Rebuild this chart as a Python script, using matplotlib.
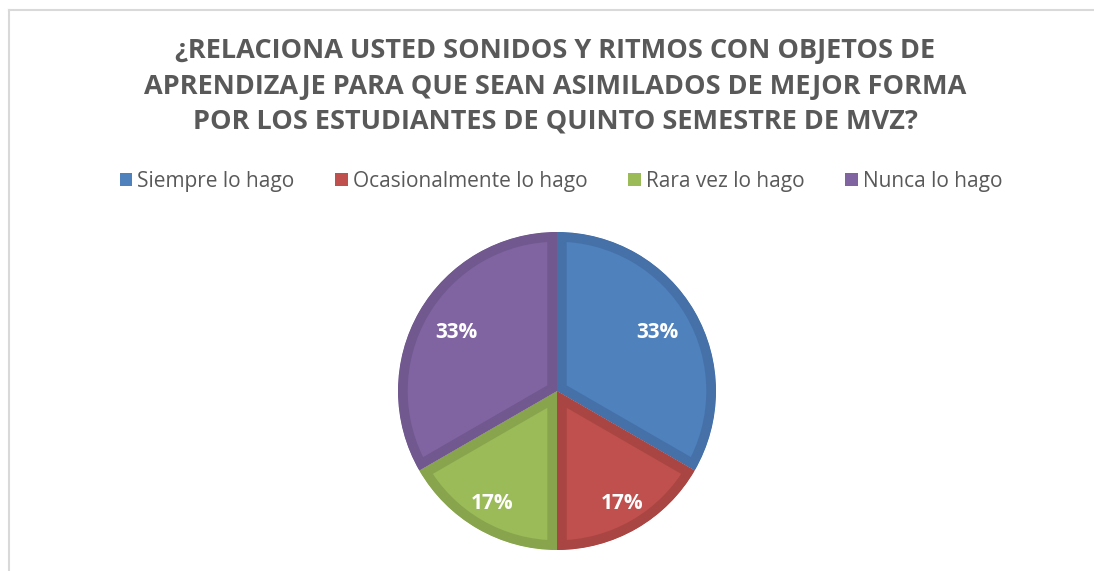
import matplotlib
matplotlib.use('Agg')
import matplotlib.pyplot as plt
import numpy as np
from matplotlib.patches import Patch
from matplotlib.lines import Line2D

plt.rcParams['font.family'] = ['Open Sans', 'DejaVu Sans']

titulo = ("¿RELACIONA USTED SONIDOS Y RITMOS CON OBJETOS DE\n"
          "APRENDIZAJE PARA QUE SEAN ASIMILADOS DE MEJOR FORMA\n"
          "POR LOS ESTUDIANTES DE QUINTO SEMESTRE DE MVZ?")
categorias = ["Siempre lo hago", "Ocasionalmente lo hago", "Rara vez lo hago", "Nunca lo hago"]
valores = [2, 1, 1, 2]
colores = ['#4F81BD', '#C0504D', '#9BBB59', '#8064A2']
bordes = ['#4571A8', '#A94643', '#88A54E', '#71588F']
dist_etiqueta = [0.73, 0.82, 0.82, 0.73]

W, H = 1094, 571
fig = plt.figure(figsize=(W / 100, H / 100), dpi=100)
fig.patch.set_facecolor('white')

# marco gris (solo arriba e izquierda visibles)
fig.add_artist(Line2D([9 / W, 9 / W], [0, 1 - 10 / H], transform=fig.transFigure, color='#D9D9D9', lw=1.5))
fig.add_artist(Line2D([9 / W, 1], [1 - 10 / H, 1 - 10 / H], transform=fig.transFigure, color='#D9D9D9', lw=1.5))

fig.text(555 / W, 1 - 86.5 / H, titulo, ha='center', va='center', fontsize=19.5,
         fontweight='bold', color='#595959', linespacing=1.45)

cx, cy, r = 557, 391, 159
ax = fig.add_axes([(cx - r) / W, 1 - (cy + r) / H, 2 * r / W, 2 * r / H])
wedges, texts, autotexts = ax.pie(valores, colors=colores, startangle=90, counterclock=False,
                                  autopct='%1.0f%%', pctdistance=0.75,
                                  wedgeprops=dict(linewidth=14),
                                  textprops=dict(color='white', fontsize=15, fontweight='bold'))
for w, b in zip(wedges, bordes):
    w.set_edgecolor(b)
    w.set_clip_on(True)
    w.set_clip_path(w)
for t, w, d in zip(autotexts, wedges, dist_etiqueta):
    ang = np.deg2rad((w.theta1 + w.theta2) / 2)
    t.set_position((d * np.cos(ang), d * np.sin(ang)))
ax.set_xlim(-1, 1)
ax.set_ylim(-1, 1)
ax.set_aspect('equal')
ax.axis('off')

handles = [Patch(facecolor=c, edgecolor='none') for c in colores]
fig.legend(handles, categorias, loc='center', bbox_to_anchor=(561 / W, 1 - 181 / H), ncol=4,
           frameon=False, fontsize=15, labelcolor='#595959', handlelength=0.6, handleheight=0.6,
           handletextpad=0.25, columnspacing=1.95)

fig.savefig('out.png', dpi=100)
